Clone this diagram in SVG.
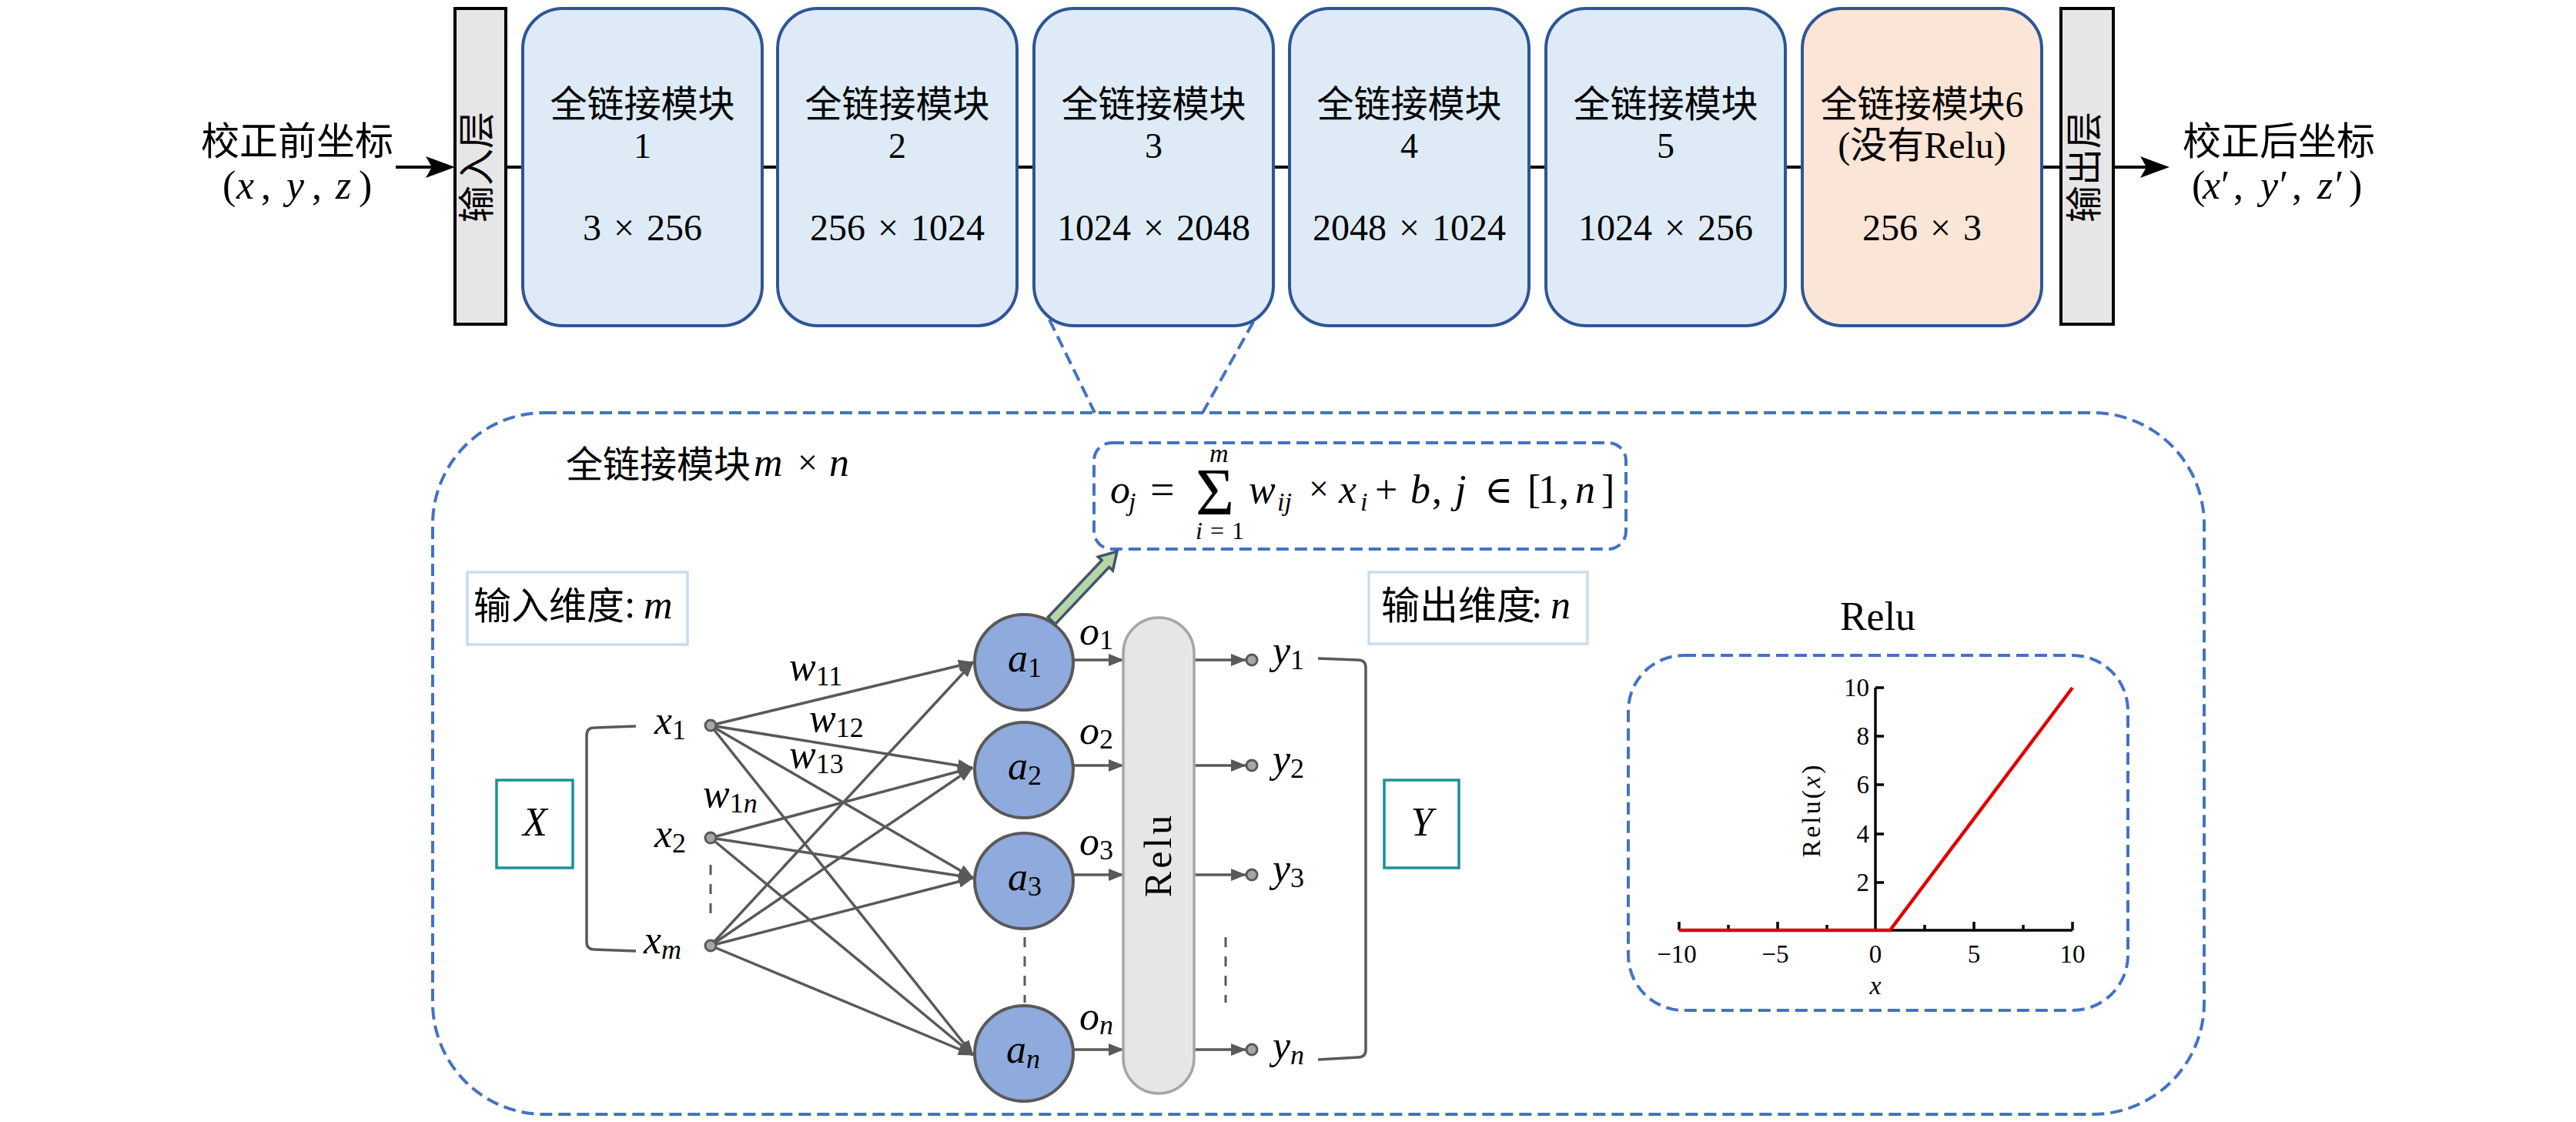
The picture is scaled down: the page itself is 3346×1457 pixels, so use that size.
<svg xmlns="http://www.w3.org/2000/svg" width="3346" height="1457" viewBox="0 0 3346 1457">
<defs>
<style>
.cjk{font-family:"Noto Sans CJK SC","Noto Sans",sans-serif;fill:#000}
.rm{font-family:"Liberation Serif","DejaVu Serif",serif;fill:#000}
.mi{font-family:"Liberation Serif","DejaVu Serif",serif;font-style:italic;fill:#000}
.up{font-style:normal}
.mod{fill:#DEEBF7;stroke:#2F5597;stroke-width:4}
.mod6{fill:#FBE5D6;stroke:#2F5597;stroke-width:4}
.layer{fill:#E7E6E6;stroke:#000;stroke-width:4}
.dash{fill:none;stroke:#4472C4;stroke-width:4;stroke-dasharray:16 8}
.edge{stroke:#595959;stroke-width:3.5;fill:none}
.neuron{fill:#8FAADC;stroke:#595959;stroke-width:4}
.pt{fill:#A6A6A6;stroke:#595959;stroke-width:3}
.teal{fill:none;stroke:#1A9199;stroke-width:3.5}
.dim{fill:none;stroke:#C9DCEF;stroke-width:3.5}
.dots{stroke:#595959;stroke-width:3;stroke-dasharray:13 12}
.axis{stroke:#000;stroke-width:3.5;fill:none}
</style>
<marker id="ga" viewBox="0 0 20 16" refX="19" refY="8" markerWidth="20" markerHeight="16" markerUnits="userSpaceOnUse" orient="auto">
<path d="M0,0 L20,8 L0,16 Z" fill="#595959"/>
</marker>
</defs>
<rect width="3346" height="1457" fill="#fff"/>

<!-- connectors -->
<g id="connectors">
<line x1="514" y1="217" x2="565" y2="217" stroke="#000" stroke-width="4"/>
<path d="M591,217 L553,203 L561,217 L553,231 Z" fill="#000"/>
<line x1="2745" y1="217" x2="2792" y2="217" stroke="#000" stroke-width="4"/>
<path d="M2818,217 L2780,203 L2788,217 L2780,231 Z" fill="#000"/>
<g stroke="#000" stroke-width="4">
<line x1="657" y1="217" x2="679" y2="217"/>
<line x1="990" y1="217" x2="1010" y2="217"/>
<line x1="1321" y1="217" x2="1343" y2="217"/>
<line x1="1654" y1="217" x2="1675" y2="217"/>
<line x1="1986" y1="217" x2="2008" y2="217"/>
<line x1="2319" y1="217" x2="2341" y2="217"/>
<line x1="2652" y1="217" x2="2677" y2="217"/>
</g>
<line class="dash" x1="1363" y1="415" x2="1422" y2="536"/>
<line class="dash" x1="1628" y1="418" x2="1562" y2="536"/>
<!-- x -> a -->
<g class="edge" marker-end="url(#ga)">
<line x1="923" y1="942" x2="1264" y2="860"/>
<line x1="923" y1="942" x2="1263" y2="997"/>
<line x1="923" y1="942" x2="1264" y2="1140"/>
<line x1="923" y1="942" x2="1264" y2="1370"/>
<line x1="923" y1="1088" x2="1263" y2="997"/>
<line x1="923" y1="1088" x2="1264" y2="1140"/>
<line x1="923" y1="1088" x2="1264" y2="1370"/>
<line x1="923" y1="1228" x2="1264" y2="860"/>
<line x1="923" y1="1228" x2="1263" y2="997"/>
<line x1="923" y1="1228" x2="1264" y2="1140"/>
<line x1="923" y1="1228" x2="1264" y2="1370"/>
</g>
<!-- a -> Relu -> y -->
<g class="edge" marker-end="url(#ga)">
<line x1="1393" y1="857" x2="1459" y2="857"/>
<line x1="1393" y1="994" x2="1459" y2="994"/>
<line x1="1393" y1="1136" x2="1459" y2="1136"/>
<line x1="1393" y1="1363" x2="1459" y2="1363"/>
<line x1="1551" y1="857" x2="1618" y2="857"/>
<line x1="1551" y1="994" x2="1618" y2="994"/>
<line x1="1551" y1="1136" x2="1618" y2="1136"/>
<line x1="1551" y1="1363" x2="1618" y2="1363"/>
</g>
<path class="edge" d="M826,943 L772,945 Q762,945 762,955 L762,1223 Q762,1233 772,1233 L826,1235"/>
<path class="edge" d="M1712,855 L1764,857 Q1774,857 1774,867 L1774,1363 Q1774,1373 1764,1373 L1712,1376"/>
<line class="dots" x1="923" y1="1123" x2="923" y2="1190"/>
<line class="dots" x1="1331" y1="1217" x2="1331" y2="1302"/>
<line class="dots" x1="1592" y1="1217" x2="1592" y2="1302"/>
</g>

<!-- top row -->
<g id="input-coords">
<text class="cjk" x="386" y="201" font-size="50" text-anchor="middle">校正前坐标</text>
<text class="rm" y="258" font-size="52"><tspan x="289">(</tspan><tspan class="mi" x="307">x</tspan><tspan x="339">,</tspan><tspan class="mi" x="372">y</tspan><tspan x="405">,</tspan><tspan class="mi" x="436">z</tspan><tspan x="466">)</tspan></text>
</g>
<g id="input-layer">
<rect class="layer" x="591" y="11" width="66" height="410"/>
<text class="cjk" font-size="48" text-anchor="middle" transform="translate(636,217) rotate(-90)">输入层</text>
</g>
<g id="fc1">
<rect class="mod" x="679" y="11" width="311" height="412" rx="52"/>
<text class="cjk" x="834.5" y="152" font-size="48" text-anchor="middle">全链接模块</text>
<text class="rm" x="834.5" y="205" font-size="46" text-anchor="middle">1</text>
<text class="rm" x="834.5" y="312" font-size="48" text-anchor="middle" word-spacing="4">3 × 256</text>
</g>
<g id="fc2">
<rect class="mod" x="1010" y="11" width="311" height="412" rx="52"/>
<text class="cjk" x="1165.5" y="152" font-size="48" text-anchor="middle">全链接模块</text>
<text class="rm" x="1165.5" y="205" font-size="46" text-anchor="middle">2</text>
<text class="rm" x="1165.5" y="312" font-size="48" text-anchor="middle" word-spacing="4">256 × 1024</text>
</g>
<g id="fc3">
<rect class="mod" x="1343" y="11" width="311" height="412" rx="52"/>
<text class="cjk" x="1498.5" y="152" font-size="48" text-anchor="middle">全链接模块</text>
<text class="rm" x="1498.5" y="205" font-size="46" text-anchor="middle">3</text>
<text class="rm" x="1498.5" y="312" font-size="48" text-anchor="middle" word-spacing="4">1024 × 2048</text>
</g>
<g id="fc4">
<rect class="mod" x="1675" y="11" width="311" height="412" rx="52"/>
<text class="cjk" x="1830.5" y="152" font-size="48" text-anchor="middle">全链接模块</text>
<text class="rm" x="1830.5" y="205" font-size="46" text-anchor="middle">4</text>
<text class="rm" x="1830.5" y="312" font-size="48" text-anchor="middle" word-spacing="4">2048 × 1024</text>
</g>
<g id="fc5">
<rect class="mod" x="2008" y="11" width="311" height="412" rx="52"/>
<text class="cjk" x="2163.5" y="152" font-size="48" text-anchor="middle">全链接模块</text>
<text class="rm" x="2163.5" y="205" font-size="46" text-anchor="middle">5</text>
<text class="rm" x="2163.5" y="312" font-size="48" text-anchor="middle" word-spacing="4">1024 × 256</text>
</g>
<g id="fc6">
<rect class="mod6" x="2341" y="11" width="311" height="412" rx="52"/>
<text class="cjk" x="2496.5" y="152" font-size="48" text-anchor="middle">全链接模块<tspan class="rm">6</tspan></text>
<text class="rm" x="2496.5" y="205" font-size="48" text-anchor="middle">(<tspan class="cjk">没有</tspan>Relu)</text>
<text class="rm" x="2496.5" y="312" font-size="48" text-anchor="middle" word-spacing="4">256 × 3</text>
</g>
<g id="output-layer">
<rect class="layer" x="2677" y="11" width="68" height="410"/>
<text class="cjk" font-size="48" text-anchor="middle" transform="translate(2724,217) rotate(-90)">输出层</text>
</g>
<g id="output-coords">
<text class="cjk" x="2960" y="201" font-size="50" text-anchor="middle">校正后坐标</text>
<text class="rm" y="258" font-size="52"><tspan x="2847">(</tspan><tspan class="mi" x="2861">x</tspan><tspan x="2885">′</tspan><tspan x="2901">,</tspan><tspan class="mi" x="2936">y</tspan><tspan x="2961">′</tspan><tspan x="2977">,</tspan><tspan class="mi" x="3010">z</tspan><tspan x="3033">′</tspan><tspan x="3051">)</tspan></text>
</g>

<!-- detail box -->
<g id="fc-detail">
<rect class="dash" x="562" y="536" width="2301" height="911" rx="145"/>
<text class="cjk" x="735" y="620" font-size="48">全链接模块</text>
<text class="mi" x="979" y="618" font-size="52">m</text>
<text class="rm" x="1036" y="616" font-size="46">×</text>
<text class="mi" x="1077" y="618" font-size="52">n</text>
</g>

<g id="formula">
<rect class="dash" x="1421" y="575" width="691" height="138" rx="23"/>
<text class="mi" x="1442" y="653" font-size="52">o</text>
<text class="mi" x="1466" y="663" font-size="34">j</text>
<text class="rm" x="1494" y="655" font-size="56">=</text>
<text class="rm" x="1553" y="668" font-size="86">Σ</text>
<text class="mi" x="1571" y="600" font-size="34">m</text>
<text class="mi" x="1553" y="700" font-size="32" word-spacing="2">i <tspan class="up">= 1</tspan></text>
<text class="mi" x="1622" y="653" font-size="52">w</text>
<text class="mi" x="1659" y="663" font-size="34">ij</text>
<text class="rm" x="1700" y="650" font-size="46">×</text>
<text class="mi" x="1739" y="653" font-size="52">x</text>
<text class="mi" x="1767" y="663" font-size="34">i</text>
<text class="rm" x="1786" y="653" font-size="52">+</text>
<text class="mi" x="1832" y="653" font-size="52">b</text>
<text class="rm" x="1860" y="653" font-size="52">,</text>
<text class="mi" x="1890" y="653" font-size="52">j</text>
<text class="rm" x="1928" y="653" font-size="50">∈</text>
<text class="rm" x="1984" y="653" font-size="52">[</text>
<text class="rm" x="1998" y="653" font-size="52">1</text>
<text class="rm" x="2025" y="653" font-size="52">,</text>
<text class="mi" x="2046" y="653" font-size="52">n</text>
<text class="rm" x="2080" y="653" font-size="52">]</text>
</g>

<g id="input-dim">
<rect class="dim" x="607" y="743" width="286" height="94"/>
<text class="cjk" x="615" y="804" font-size="49">输入维度</text>
<text class="rm" x="811" y="802" font-size="52">:</text>
<text class="mi" x="836" y="803" font-size="52">m</text>
</g>
<g id="output-dim">
<rect class="dim" x="1778" y="743" width="284" height="93"/>
<text class="cjk" x="1794" y="804" font-size="50">输出维度</text>
<text class="rm" x="1989" y="802" font-size="52">:</text>
<text class="mi" x="2014" y="803" font-size="52">n</text>
</g>

<g id="X-box">
<rect class="teal" x="645" y="1013" width="99" height="114"/>
<text class="mi" x="695" y="1085" font-size="52" text-anchor="middle">X</text>
</g>
<g id="Y-box">
<rect class="teal" x="1798" y="1013" width="97" height="114"/>
<text class="mi" x="1847" y="1085" font-size="52" text-anchor="middle">Y</text>
</g>

<g id="inputs">
<circle class="pt" cx="923" cy="942" r="7"/>
<circle class="pt" cx="923" cy="1088" r="7"/>
<circle class="pt" cx="923" cy="1228" r="7"/>
<text class="mi" x="850" y="953" font-size="52">x<tspan class="up" font-size="36" dy="7">1</tspan></text>
<text class="mi" x="850" y="1100" font-size="52">x<tspan class="up" font-size="36" dy="7">2</tspan></text>
<text class="mi" x="836" y="1238" font-size="52">x<tspan font-size="36" dy="7">m</tspan></text>
</g>

<g id="weights">
<text class="mi" x="1025" y="883" font-size="52">w<tspan class="up" font-size="36" dy="7">11</tspan></text>
<text class="mi" x="1051" y="950" font-size="52">w<tspan class="up" font-size="36" dy="7">12</tspan></text>
<text class="mi" x="1025" y="997" font-size="52">w<tspan class="up" font-size="36" dy="7">13</tspan></text>
<text class="mi" x="913" y="1048" font-size="52">w<tspan class="up" font-size="36" dy="7">1</tspan><tspan font-size="36">n</tspan></text>
</g>

<g id="neurons">
<ellipse class="neuron" cx="1330" cy="860" rx="64" ry="62"/>
<ellipse class="neuron" cx="1330" cy="1000" rx="64" ry="62"/>
<ellipse class="neuron" cx="1330" cy="1144" rx="64" ry="62"/>
<ellipse class="neuron" cx="1330" cy="1368" rx="64" ry="62"/>
<text class="mi" x="1309" y="872" font-size="52">a<tspan class="up" font-size="36" dy="7">1</tspan></text>
<text class="mi" x="1309" y="1012" font-size="52">a<tspan class="up" font-size="36" dy="7">2</tspan></text>
<text class="mi" x="1309" y="1156" font-size="52">a<tspan class="up" font-size="36" dy="7">3</tspan></text>
<text class="mi" x="1307" y="1380" font-size="52">a<tspan font-size="36" dy="7">n</tspan></text>
</g>

<g id="green-arrow">
<polygon points="1370.7,810.5 1440.6,736.5 1445.4,740.9 1451,716 1426.4,723.1 1431.2,727.5 1361.3,801.5" fill="#B5D6A7" stroke="#44546A" stroke-width="3.5" stroke-linejoin="miter"/>
</g>

<g id="o-labels">
<text class="mi" x="1402" y="837" font-size="52">o<tspan class="up" font-size="36" dy="6">1</tspan></text>
<text class="mi" x="1402" y="966" font-size="52">o<tspan class="up" font-size="36" dy="6">2</tspan></text>
<text class="mi" x="1402" y="1110" font-size="52">o<tspan class="up" font-size="36" dy="6">3</tspan></text>
<text class="mi" x="1402" y="1337" font-size="52">o<tspan font-size="36" dy="6">n</tspan></text>
</g>

<g id="relu-layer">
<rect x="1459" y="802" width="92" height="618" rx="46" fill="#E6E6E6" stroke="#A6A6A6" stroke-width="3.5"/>
<text class="rm" font-size="50" letter-spacing="4" text-anchor="middle" transform="translate(1521,1110) rotate(-90)">Relu</text>
</g>

<g id="outputs">
<circle class="pt" cx="1626" cy="857" r="7"/>
<circle class="pt" cx="1626" cy="994" r="7"/>
<circle class="pt" cx="1626" cy="1136" r="7"/>
<circle class="pt" cx="1626" cy="1363" r="7"/>
<text class="mi" x="1653" y="862" font-size="52">y<tspan class="up" font-size="36" dy="7">1</tspan></text>
<text class="mi" x="1653" y="1003" font-size="52">y<tspan class="up" font-size="36" dy="7">2</tspan></text>
<text class="mi" x="1653" y="1145" font-size="52">y<tspan class="up" font-size="36" dy="7">3</tspan></text>
<text class="mi" x="1653" y="1375" font-size="52">y<tspan font-size="36" dy="7">n</tspan></text>
</g>

<g id="relu-plot">
<text class="rm" x="2439" y="818" font-size="52" text-anchor="middle">Relu</text>
<rect class="dash" x="2115" y="851" width="649" height="461" rx="72"/>
<line class="axis" x1="2181" y1="1208" x2="2692" y2="1208"/>
<line class="axis" x1="2436" y1="893" x2="2436" y2="1208"/>
<g class="axis">
<line x1="2436" y1="893" x2="2447" y2="893"/>
<line x1="2436" y1="956" x2="2447" y2="956"/>
<line x1="2436" y1="1019" x2="2447" y2="1019"/>
<line x1="2436" y1="1083" x2="2447" y2="1083"/>
<line x1="2436" y1="1146" x2="2447" y2="1146"/>
<line x1="2181" y1="1208" x2="2181" y2="1197"/>
<line x1="2309" y1="1208" x2="2309" y2="1197"/>
<line x1="2564" y1="1208" x2="2564" y2="1197"/>
<line x1="2692" y1="1208" x2="2692" y2="1197"/>
<line x1="2245" y1="1208" x2="2245" y2="1201"/>
<line x1="2373" y1="1208" x2="2373" y2="1201"/>
<line x1="2500" y1="1208" x2="2500" y2="1201"/>
<line x1="2628" y1="1208" x2="2628" y2="1201"/>
</g>
<polyline points="2181,1208 2455,1208 2692,893" fill="none" stroke="#E00000" stroke-width="4.5"/>
<g class="rm" font-size="33" text-anchor="end">
<text x="2428" y="904">10</text>
<text x="2428" y="967">8</text>
<text x="2428" y="1030">6</text>
<text x="2428" y="1094">4</text>
<text x="2428" y="1157">2</text>
</g>
<g class="rm" font-size="33" text-anchor="middle">
<text x="2178" y="1250">−10</text>
<text x="2306" y="1250">−5</text>
<text x="2436" y="1250">0</text>
<text x="2564" y="1250">5</text>
<text x="2692" y="1250">10</text>
</g>
<text class="mi" x="2436" y="1291" font-size="34" text-anchor="middle">x</text>
<text class="rm" font-size="34" letter-spacing="3" text-anchor="middle" transform="translate(2364,1052) rotate(-90)">Relu(<tspan class="mi">x</tspan>)</text>
</g>
</svg>
